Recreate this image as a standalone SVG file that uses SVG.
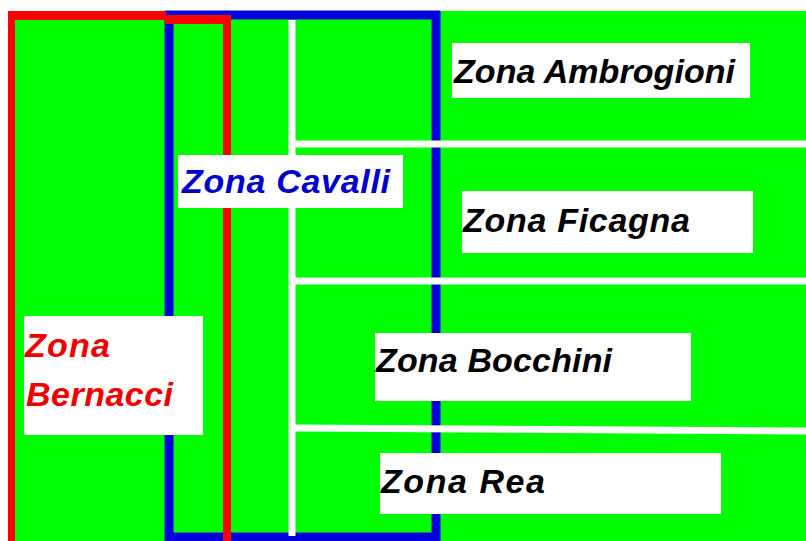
<svg xmlns="http://www.w3.org/2000/svg" width="806" height="541" viewBox="0 0 806 541">
<style>
.bg{fill:#00ff00}
.red{stroke:#ff0000;fill:none}
.blue{stroke:#0000dd;fill:none}
.wl{stroke:#ffffff;stroke-width:7;fill:none}
.box{fill:#ffffff}
.lbl{font-family:"Liberation Sans",Arial,sans-serif;font-weight:bold;font-style:italic;font-size:34px;fill:#000000}
</style>
<rect x="0" y="0" width="806" height="541" fill="#ffffff"/>
<rect class="bg" x="8" y="11" width="798" height="530"/>
<g id="zone-borders">
<rect class="blue" stroke-width="9" x="169" y="15" width="267" height="522"/>
<path class="red" stroke-width="7" d="M11.5 541 V15.5"/>
<path class="red" stroke-width="9" d="M8 15.5 H166"/>
<path class="red" stroke-width="9" d="M165 19.5 H231"/>
<path class="red" stroke-width="8" d="M227 15 V541"/>
</g>
<g id="connectors">
<path class="wl" d="M292 20 V536"/>
<path class="wl" d="M292 144 H806"/>
<path class="wl" d="M292 281 H806"/>
<path class="wl" d="M295 428 L806 431"/>
</g>
<g id="zona-ambrogioni">
<rect class="box" x="452" y="43" width="298" height="55"/>
<text class="lbl" x="454" y="83" textLength="281">Zona Ambrogioni</text>
</g>
<g id="zona-ficagna">
<rect class="box" x="462" y="191" width="291" height="62"/>
<text class="lbl" x="463" y="232" textLength="227">Zona Ficagna</text>
</g>
<g id="zona-bocchini">
<rect class="box" x="375" y="333" width="316" height="68"/>
<text class="lbl" x="376" y="372" textLength="236">Zona Bocchini</text>
</g>
<g id="zona-rea">
<rect class="box" x="380" y="453" width="341" height="61"/>
<text class="lbl" x="381" y="493" textLength="164">Zona Rea</text>
</g>
<g id="zona-cavalli">
<rect class="box" x="178" y="155" width="225" height="53"/>
<text class="lbl" x="182" y="193" textLength="208" style="fill:#0000cc">Zona Cavalli</text>
</g>
<g id="zona-bernacci">
<rect class="box" x="24" y="316" width="179" height="119"/>
<text class="lbl" x="25" y="357" textLength="85" style="fill:#ee0000">Zona</text>
<text class="lbl" x="26" y="406" textLength="147" style="fill:#ee0000">Bernacci</text>
</g>
</svg>
